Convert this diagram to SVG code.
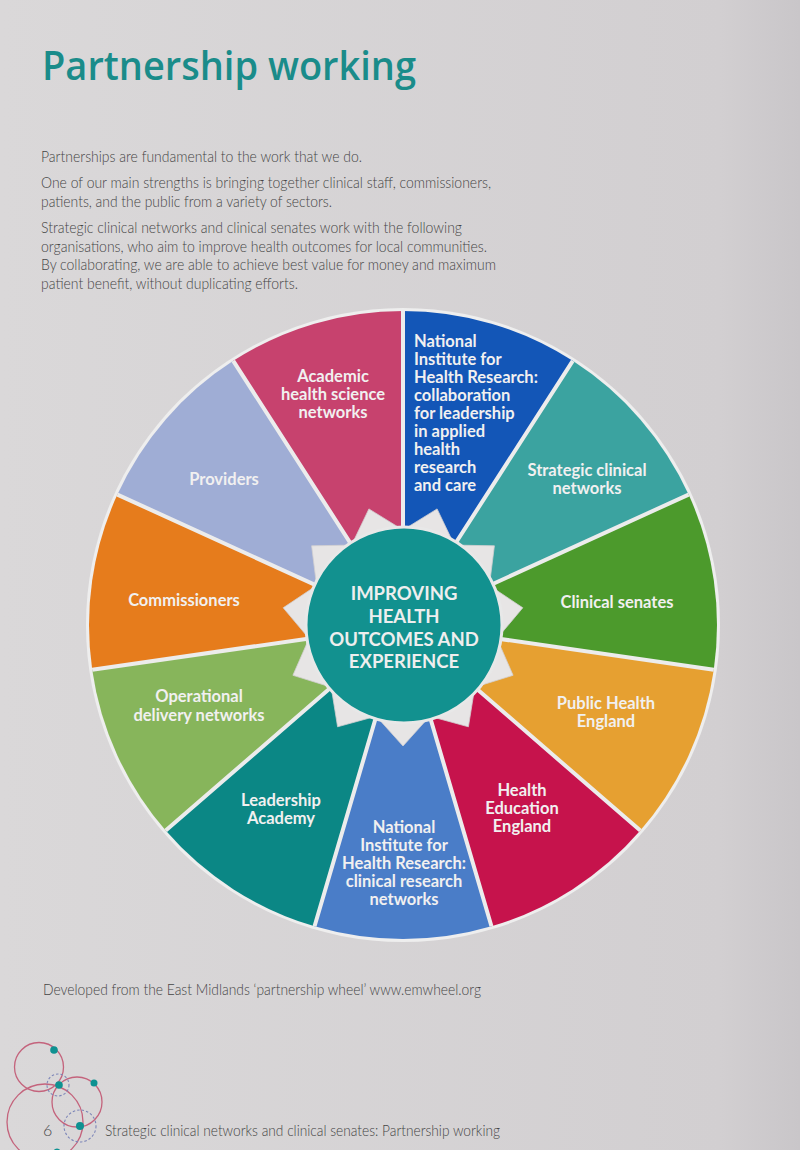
<svg xmlns="http://www.w3.org/2000/svg" width="800" height="1150" viewBox="0 0 800 1150">
<defs>
<linearGradient id="bg" x1="0" y1="0" x2="1" y2="0">
<stop offset="0" stop-color="#dad8d9"/>
<stop offset="0.9" stop-color="#d2cfd1"/>
<stop offset="1" stop-color="#c9c6c9"/>
</linearGradient>
<style>
.body{font-family:Lato,"Open Sans","Liberation Sans",sans-serif;font-size:16px;fill:#454545;font-weight:300}
.lbl{font-family:Lato,"Open Sans","Liberation Sans",sans-serif;font-size:16.5px;font-weight:700;fill:#f1f0f0}
.mid{text-anchor:middle}
.ctr{font-family:Lato,"Open Sans","Liberation Sans",sans-serif;font-size:18.5px;font-weight:700;fill:#eeeeee;text-anchor:middle}
.div{stroke:#ececec;stroke-width:4;fill:none}
.logo{fill:none;stroke:#c4637c;stroke-width:1.3}
.dash{fill:none;stroke:#7d86b8;stroke-width:1.1;stroke-dasharray:2.5 2}
.dot{fill:#0f9191}
</style>
</defs>
<rect width="800" height="1150" fill="url(#bg)"/>

<text x="42" y="80" font-family="'Open Sans',Lato,'Liberation Sans',sans-serif" font-size="40" font-weight="600" fill="#1a8c8a" textLength="374" lengthAdjust="spacingAndGlyphs">Partnership working</text>

<g id="intro">
<text class="body" x="41" y="162" textLength="321" lengthAdjust="spacingAndGlyphs">Partnerships are fundamental to the work that we do.</text>
<text class="body" x="41" y="188" textLength="450" lengthAdjust="spacingAndGlyphs">One of our main strengths is bringing together clinical staff, commissioners,</text>
<text class="body" x="41" y="207" textLength="291" lengthAdjust="spacingAndGlyphs">patients, and the public from a variety of sectors.</text>
<text class="body" x="41" y="233" textLength="421" lengthAdjust="spacingAndGlyphs">Strategic clinical networks and clinical senates work with the following</text>
<text class="body" x="41" y="252" textLength="446" lengthAdjust="spacingAndGlyphs">organisations, who aim to improve health outcomes for local communities.</text>
<text class="body" x="41" y="270" textLength="455" lengthAdjust="spacingAndGlyphs">By collaborating, we are able to achieve best value for money and maximum</text>
<text class="body" x="41" y="288.5" textLength="257" lengthAdjust="spacingAndGlyphs">patient benefit, without duplicating efforts.</text>
</g>

<g id="wheel">
<circle cx="403" cy="625" r="317" fill="#eeeeee"/>
<g id="seg-clahrc"><path d="M403,625 L403,311 A314,314 0 0 1 572.75,360.83 Z" fill="#1356b7"/></g>
<g id="seg-scn"><path d="M403,625 L572.75,360.83 A314,314 0 0 1 688.6,494.6 Z" fill="#3ba3a0"/></g>
<g id="seg-senates"><path d="M403,625 L688.6,494.6 A314,314 0 0 1 713.8,669.7 Z" fill="#4c9a2c"/></g>
<g id="seg-phe"><path d="M403,625 L713.8,669.7 A314,314 0 0 1 640.3,830.6 Z" fill="#e6a031"/></g>
<g id="seg-hee"><path d="M403,625 L640.3,830.6 A314,314 0 0 1 491.45,926.3 Z" fill="#c6134c"/></g>
<g id="seg-crn"><path d="M403,625 L491.45,926.3 A314,314 0 0 1 314.55,926.3 Z" fill="#4a7dc8"/></g>
<g id="seg-leadership"><path d="M403,625 L314.55,926.3 A314,314 0 0 1 165.7,830.6 Z" fill="#0b8785"/></g>
<g id="seg-odn"><path d="M403,625 L165.7,830.6 A314,314 0 0 1 92.2,669.7 Z" fill="#87b55b"/></g>
<g id="seg-commissioners"><path d="M403,625 L92.2,669.7 A314,314 0 0 1 117.4,494.6 Z" fill="#e67c1c"/></g>
<g id="seg-providers"><path d="M403,625 L117.4,494.6 A314,314 0 0 1 233.25,360.83 Z" fill="#9fadd5"/></g>
<g id="seg-academic"><path d="M403,625 L233.25,360.83 A314,314 0 0 1 403,311 Z" fill="#c7426e"/></g>
</g>

<g id="connectors">
<path class="div" d="M403,625 L403,311 M403,625 L572.75,360.83 M403,625 L688.6,494.6 M403,625 L713.8,669.7 M403,625 L640.3,830.6 M403,625 L491.45,926.3 M403,625 L314.55,926.3 M403,625 L165.7,830.6 M403,625 L92.2,669.7 M403,625 L117.4,494.6 M403,625 L233.25,360.83"/>
</g>

<g id="hub">
<polygon points="403,530 437.1,508.9 454.4,545.1 494.4,545.8 489.4,585.5 522.8,607.8 497,638.5 513.1,675.3 474.8,687.2 468.4,726.8 429.8,716.2 403,746 376.2,716.2 337.6,726.8 331.2,687.2 292.9,675.3 309,638.5 283.2,607.8 316.6,585.5 311.6,545.8 351.6,545.1 368.9,508.9" fill="#e7e5e5" stroke="#d2cfd0" stroke-width="0.8"/>
<circle cx="404" cy="625" r="98" fill="#12918f" stroke="#e8e8e8" stroke-width="3"/>
<text class="ctr" x="404" y="600">IMPROVING</text>
<text class="ctr" x="404" y="623">HEALTH</text>
<text class="ctr" x="404" y="646">OUTCOMES AND</text>
<text class="ctr" x="404" y="668">EXPERIENCE</text>
</g>

<g id="label-academic">
<text class="lbl mid" x="333" y="381.5">Academic</text>
<text class="lbl mid" x="333" y="399.5">health science</text>
<text class="lbl mid" x="333" y="417.5">networks</text>
</g>
<g id="label-clahrc">
<text class="lbl" x="414" y="346.5">National</text>
<text class="lbl" x="414" y="364.6">Institute for</text>
<text class="lbl" x="414" y="382.7">Health Research:</text>
<text class="lbl" x="414" y="400.8">collaboration</text>
<text class="lbl" x="414" y="418.9">for leadership</text>
<text class="lbl" x="414" y="437">in applied</text>
<text class="lbl" x="414" y="455.1">health</text>
<text class="lbl" x="414" y="473.2">research</text>
<text class="lbl" x="414" y="491.3">and care</text>
</g>
<g id="label-scn">
<text class="lbl mid" x="587" y="475.5">Strategic clinical</text>
<text class="lbl mid" x="587" y="493.5">networks</text>
</g>
<g id="label-providers">
<text class="lbl mid" x="224" y="485" fill="#e6e7ee">Providers</text>
</g>
<g id="label-commissioners">
<text class="lbl mid" x="184" y="606">Commissioners</text>
</g>
<g id="label-senates">
<text class="lbl mid" x="617" y="607.5">Clinical senates</text>
</g>
<g id="label-odn">
<text class="lbl mid" x="199" y="702">Operational</text>
<text class="lbl mid" x="199" y="720.5">delivery networks</text>
</g>
<g id="label-phe">
<text class="lbl mid" x="606" y="708.5">Public Health</text>
<text class="lbl mid" x="606" y="726.5">England</text>
</g>
<g id="label-hee">
<text class="lbl mid" x="522" y="795.5">Health</text>
<text class="lbl mid" x="522" y="813.7">Education</text>
<text class="lbl mid" x="522" y="832">England</text>
</g>
<g id="label-leadership">
<text class="lbl mid" x="281" y="805.5">Leadership</text>
<text class="lbl mid" x="281" y="823.7">Academy</text>
</g>
<g id="label-crn">
<text class="lbl mid" x="404" y="832.5">National</text>
<text class="lbl mid" x="404" y="850.7">Institute for</text>
<text class="lbl mid" x="404" y="868.9">Health Research:</text>
<text class="lbl mid" x="404" y="887.1">clinical research</text>
<text class="lbl mid" x="404" y="905.3">networks</text>
</g>

<text class="body" x="43" y="995" textLength="438" lengthAdjust="spacingAndGlyphs">Developed from the East Midlands ‘partnership wheel’ www.emwheel.org</text>

<g id="logo">
<circle class="logo" cx="39" cy="1067" r="24.5"/>
<circle class="logo" cx="45" cy="1122" r="38"/>
<circle class="logo" cx="77" cy="1102" r="25"/>
<circle class="dash" cx="58" cy="1085" r="11"/>
<circle class="dash" cx="80" cy="1126" r="16"/>
<circle class="dot" cx="54" cy="1050" r="3.8"/>
<circle class="dot" cx="59" cy="1085" r="3.8"/>
<circle class="dot" cx="94" cy="1083" r="3.5"/>
<circle class="dot" cx="80" cy="1126" r="4"/>
<circle class="dot" cx="57" cy="1152" r="3.5"/>
</g>

<text class="body" x="43" y="1136">6</text>
<text class="body" x="105" y="1136" textLength="395" lengthAdjust="spacingAndGlyphs">Strategic clinical networks and clinical senates: Partnership working</text>
</svg>
